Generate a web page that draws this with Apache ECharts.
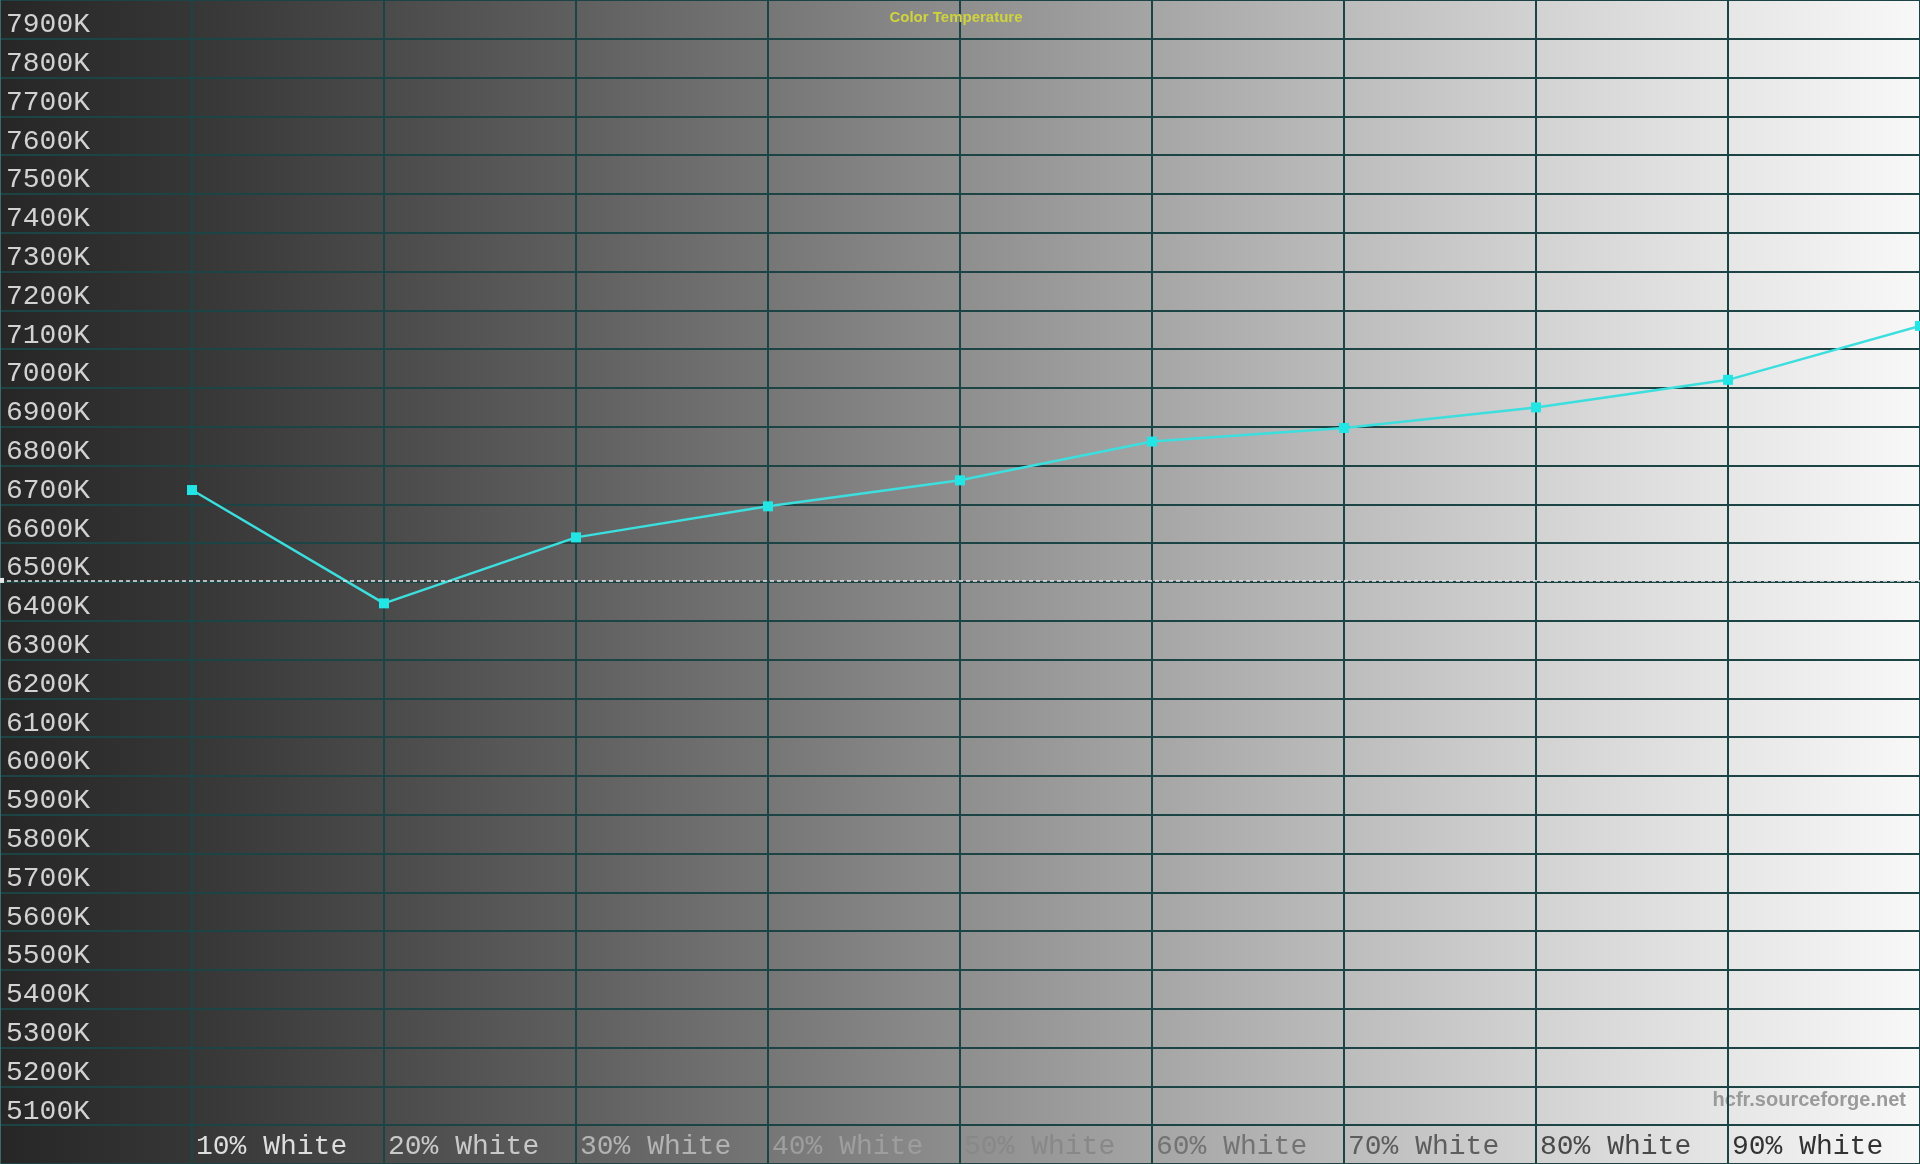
<!DOCTYPE html>
<html>
<head>
<meta charset="utf-8">
<style>
html,body{margin:0;padding:0;width:1920px;height:1164px;overflow:hidden;background:#000;}
#chart{width:1920px;height:1164px;}
</style>
<script src="https://cdn.jsdelivr.net/npm/echarts@6/dist/echarts.min.js"></script>
</head>
<body>
<div id="chart"></div>
<script>
// ---- data ----
const categories = ['', '10% White', '20% White', '30% White', '40% White', '50% White',
                    '60% White', '70% White', '80% White', '90% White', '100% White'];
const colorTemp = [null, 6737, 6445, 6615, 6695, 6762, 6862, 6897, 6950, 7021, 7160];
const referenceTemp = 6504;
const yMin = 5000, yMax = 8000, yStep = 100;
const titleText = 'Color Temperature';
const watermark = 'hcfr.sourceforge.net';

// ---- styles ----
const monoFont = "'Liberation Mono', 'DejaVu Sans Mono', monospace";
const gridColor = '#1c4444';
function xLabelColor(idx) {
  const g = Math.round(222 - (idx - 1) * 21.5);
  return 'rgb(' + g + ',' + g + ',' + g + ')';
}

const chart = echarts.init(document.getElementById('chart'));
chart.setOption({
  animation: false,
  backgroundColor: {
    type: 'linear', x: 0, y: 0, x2: 1, y2: 0,
    colorStops: [
      {offset: 0, color: '#262626'},
      {offset: 0.1, color: '#363636'},
      {offset: 0.2, color: '#4a4a4a'},
      {offset: 0.3, color: '#5f5f5f'},
      {offset: 0.4, color: '#767676'},
      {offset: 0.5, color: '#8e8e8e'},
      {offset: 0.6, color: '#a5a5a5'},
      {offset: 0.7, color: '#bcbcbc'},
      {offset: 0.8, color: '#d2d2d2'},
      {offset: 0.9, color: '#e6e6e6'},
      {offset: 1, color: '#f8f8f8'}
    ]
  },
  title: {
    text: titleText,
    left: 951, top: 5, textAlign: 'center',
    textStyle: {color: '#d0d43c', fontSize: 15, fontWeight: 'bold', fontFamily: "'Liberation Sans', Arial, sans-serif"}
  },
  graphic: [{
    type: 'text', right: 14, top: 1090,
    style: {text: watermark, fill: '#9a9a9a', font: "bold 20px 'Liberation Sans', Arial, sans-serif"}
  }],
  grid: {left: 0, right: 0, top: 0, bottom: 0, containLabel: false, outerBoundsMode: 'none'},
  xAxis: {
    type: 'category',
    data: categories,
    boundaryGap: false,
    axisLine: {show: false},
    axisTick: {show: false},
    axisLabel: {
      inside: true, interval: 0, margin: 3, align: 'left', verticalAlign: 'bottom',
      hideOverlap: false,
      fontFamily: monoFont, fontSize: 28, padding: [0, 0, 0, 4],
      color: function (v, idx) { return xLabelColor(idx); }
    },
    splitLine: {show: true, lineStyle: {color: gridColor, width: 2}}
  },
  yAxis: {
    type: 'value', min: yMin, max: yMax, interval: yStep,
    axisLine: {show: true, lineStyle: {color: '#3a6a6a', width: 2}},
    axisTick: {show: false},
    axisLabel: {
      inside: true, margin: 6, align: 'left', verticalAlign: 'bottom',
      fontFamily: monoFont, fontSize: 28, color: '#d2d2d2',
      formatter: function (v) { return (v === yMin || v === yMax) ? '' : v + 'K'; }
    },
    splitLine: {show: true, lineStyle: {color: gridColor, width: 2}}
  },
  series: [{
    type: 'line',
    data: colorTemp,
    symbol: 'rect',
    symbolSize: 10,
    lineStyle: {color: '#3cdede', width: 2.5},
    itemStyle: {color: '#22e6e6'},
    connectNulls: false,
    markLine: {
      silent: true,
      symbol: ['rect', 'none'],
      symbolSize: [5, 8],
      label: {show: false},
      lineStyle: {color: '#e6e6e6', type: [4, 3], width: 1.5},
      data: [{yAxis: referenceTemp}]
    }
  }]
});
</script>
</body>
</html>
